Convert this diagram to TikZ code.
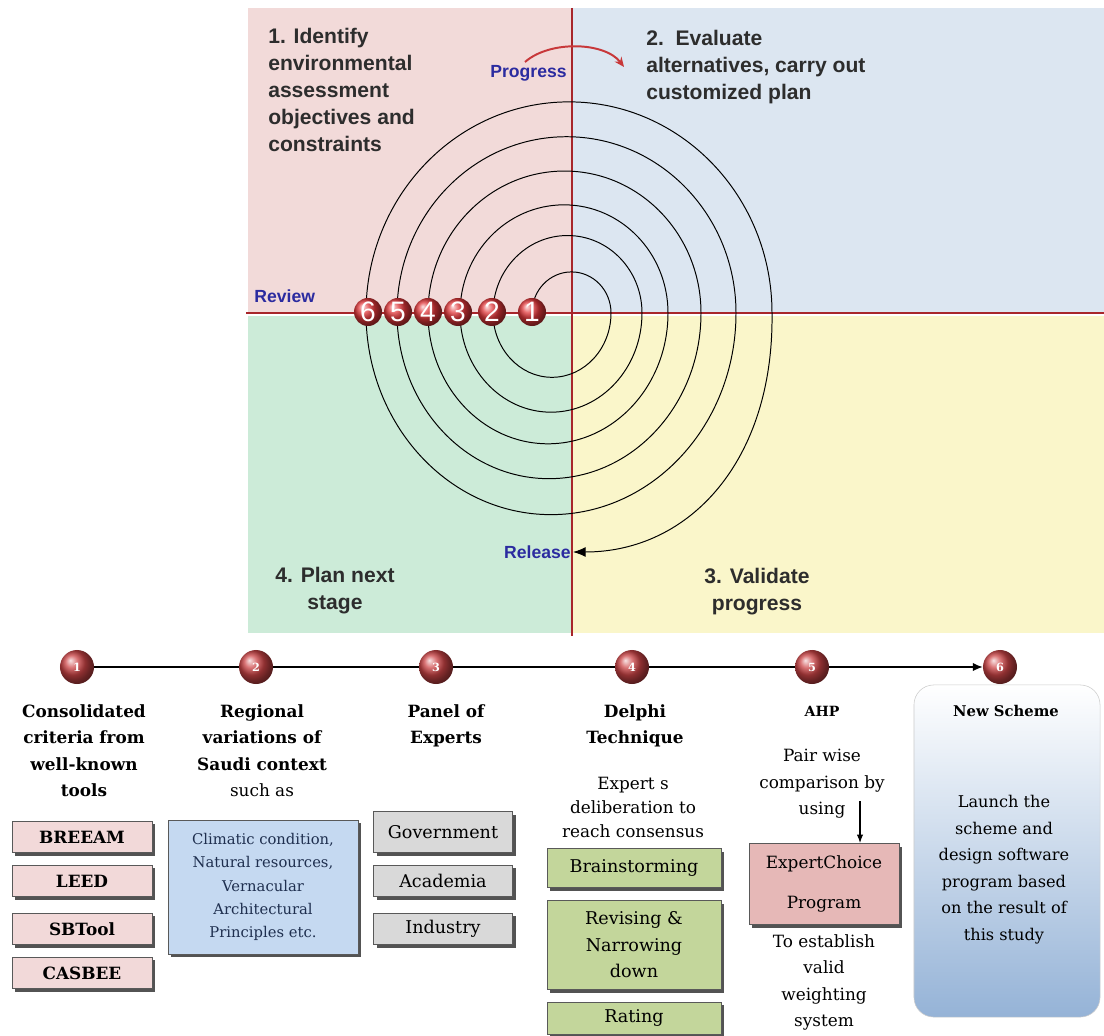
\documentclass[tikz,border=0pt]{standalone}
\usepackage{fontspec}
\setmainfont{DejaVu Serif}
\newfontfamily\quadfont{Liberation Sans}
\usetikzlibrary{arrows.meta, positioning, calc, shadows}
\definecolor{quadpink}{HTML}{F2DAD9}
\definecolor{quadblue}{HTML}{DCE6F1}
\definecolor{quadgreen}{HTML}{CCEBD8}
\definecolor{quadyellow}{HTML}{FAF6CA}
\definecolor{axisred}{HTML}{A8262B}
\definecolor{progred}{HTML}{C8383A}
\definecolor{labelblue}{HTML}{2B2BA0}
\definecolor{quadtextc}{HTML}{2D2D2D}
\definecolor{ballred}{HTML}{E0373A}
\definecolor{stagered}{HTML}{CC4446}
\definecolor{boxpink}{HTML}{F2D9D9}
\definecolor{boxblue}{HTML}{C5D9F1}
\definecolor{boxgray}{HTML}{D9D9D9}
\definecolor{boxgreen}{HTML}{C3D69B}
\definecolor{boxrose}{HTML}{E6B8B7}
\definecolor{schemeblue}{HTML}{95B3D7}
\definecolor{navytext}{HTML}{1F2F4F}

\begin{document}
\begin{tikzpicture}[x=0.025cm, y=0.025cm,
    quadtext/.style={font=\quadfont\bfseries\fontsize{15}{19.2}\selectfont, text=quadtextc, inner sep=0pt},
    cyclelabel/.style={font=\quadfont\bfseries\fontsize{12.5}{14}\selectfont, text=labelblue, inner sep=1.5pt},
    spiral/.style={line width=0.7pt, black},
    axisline/.style={axisred, line width=1.6pt},
    topball/.style={circle, shading=ball, ball color=ballred, minimum size=0.7cm, inner sep=0pt, text=white, font=\quadfont\fontsize{20}{20}\selectfont},
    stageball/.style={circle, shading=ball, ball color=stagered, minimum size=0.85cm, inner sep=0pt, text=white, font=\bfseries\fontsize{8}{8}\selectfont},
    stagehead/.style={font=\bfseries\fontsize{12}{18.85}\selectfont, align=center, inner sep=0pt, anchor=north},
    stagetext/.style={font=\fontsize{12}{18.85}\selectfont, align=center, inner sep=0pt, anchor=north},
    itembox/.style={draw=black!65, line width=0.6pt, minimum width=3.5cm, minimum height=0.78cm, inner sep=1pt, align=center, font=\fontsize{12.5}{18.85}\selectfont, drop shadow={shadow xshift=2.2pt, shadow yshift=-2.2pt, fill=black!75, opacity=0.9}},
    tline/.style={line width=1pt, black}
  ]
  \useasboundingbox (0,0) rectangle (1104,-1036);

  % Quadrants
  \fill[quadpink] (248,-8) rectangle (571,-313);
  \fill[quadblue] (573,-8) rectangle (1104,-313);
  \fill[quadgreen] (248,-316) rectangle (571,-633);
  \fill[quadyellow] (573,-316) rectangle (1104,-633);
  \draw[axisline] (246,-313) -- (1104,-313);
  \draw[axisline] (572,-8) -- (572,-636);

  \node[quadtext, anchor=north west, align=left] (q1) at (268,-28) {1. Identify\\environmental\\assessment\\objectives and\\constraints};
  \node[quadtext, anchor=north west, align=left] (q2) at (646,-30) {2.\ \ Evaluate\\alternatives, carry out\\customized plan};
  \node[quadtext, anchor=north, align=center] (q3) at (757,-568) {3. Validate\\progress};
  \node[quadtext, anchor=north, align=center] (q4) at (335,-567) {4. Plan next\\stage};

  \node[cyclelabel, anchor=east] (progress) at (569,-73) {Progress};
  \node[cyclelabel, anchor=west] (review) at (252,-296) {Review};
  \node[cyclelabel, anchor=east] (release) at (573,-552) {Release};
  \draw[progred, line width=1.4pt, -{Stealth[length=7pt, width=6pt]}] (525,-62) .. controls (550,-40) and (605,-42) .. (624,-67);

  % Spiral
  \foreach \l/\r in {532/611, 493/642, 460/668, 428/701, 397/736, 366/772}
    \draw[spiral] (\l,-313) arc[start angle=180, end angle=0, x radius={(\r-\l)/2}, y radius={(\r-\l)/2*1.04}];
  \foreach \r/\l in {611/493, 642/460, 668/428, 701/397, 736/366}
    \draw[spiral] (\r,-313) arc[start angle=0, end angle=-180, x radius={(\r-\l)/2}, y radius={(\r-\l)/2*1.09}];
  \draw[spiral, -{Latex[length=9pt, width=7pt]}] (772,-313) .. controls (774,-460) and (690,-552) .. (release.east);

  \foreach \n/\x in {1/532, 2/492, 3/458, 4/428, 5/398, 6/368}
    \node[topball] (c\n) at (\x,-312) {\n};

  % Timeline
  \foreach \n/\x in {1/77, 2/256, 3/436, 4/632, 5/812, 6/1000}
    \node[stageball] (t\n) at (\x,-667) {\n};
  \draw[tline] (t1) -- (t2);
  \draw[tline] (t2) -- (t3);
  \draw[tline] (t3) -- (t4);
  \draw[tline] (t4) -- (t5);
  \draw[tline, -{Latex[length=7pt, width=6pt]}] (t5) -- (t6);

  % Consolidated criteria
  \node[stagehead] (h1) at (84,-704) {Consolidated\\criteria from\\well-known\\tools};
  \node[itembox, fill=boxpink, font=\bfseries\fontsize{12}{18}\selectfont] (breeam) at (82,-837) {BREEAM};
  \node[itembox, fill=boxpink, font=\bfseries\fontsize{12}{18}\selectfont] (leed) at (82,-881) {LEED};
  \node[itembox, fill=boxpink, font=\bfseries\fontsize{12}{18}\selectfont] (sbtool) at (82,-929) {SBTool};
  \node[itembox, fill=boxpink, font=\bfseries\fontsize{12}{18}\selectfont] (casbee) at (82,-973) {CASBEE};

  % Regional variations
  \node[stagehead] (h2) at (262,-704) {Regional\\variations of\\Saudi context\\\normalfont such as};
  \node[itembox, fill=boxblue, minimum width=4.75cm, minimum height=3.35cm, text=navytext, font=\fontsize{10.5}{16.6}\selectfont] (regional) at (263,-887) {Climatic condition,\\Natural resources,\\Vernacular\\Architectural\\Principles etc.};

  % Panel of experts
  \node[stagehead] (h3) at (446,-704) {Panel of\\Experts};
  \node[itembox, fill=boxgray, minimum width=3.475cm, minimum height=1.025cm] (gov) at (443,-832) {Government};
  \node[itembox, fill=boxgray, minimum width=3.475cm] (acad) at (443,-881) {Academia};
  \node[itembox, fill=boxgray, minimum width=3.475cm] (ind) at (443,-929) {Industry};

  % Delphi
  \node[stagehead] (h4) at (635,-704) {Delphi\\Technique};
  \node[stagetext, font=\fontsize{12}{17.2}\selectfont] (d4) at (633,-777) {Expert s\\deliberation to\\reach consensus};
  \node[itembox, fill=boxgreen, minimum width=4.35cm, minimum height=0.975cm] (brain) at (634,-868) {Brainstorming};
  \node[itembox, fill=boxgreen, minimum width=4.35cm, minimum height=2.225cm] (revise) at (634,-945) {Revising \&\\Narrowing\\down};
  \node[itembox, fill=boxgreen, minimum width=4.35cm, minimum height=0.8cm] (rating) at (634,-1018) {Rating};

  % AHP
  \node[stagehead, font=\bfseries\fontsize{10}{18.85}\selectfont] (h5) at (822,-706) {AHP};
  \node[stagetext] (d5) at (822,-749) {Pair wise\\comparison by\\using};
  \node[itembox, fill=boxrose, minimum width=3.75cm, minimum height=2.025cm, font=\fontsize{12}{18.85}\selectfont] (ec) at (824,-884) {ExpertChoice\\[9pt]Program};
  \coordinate (ustart) at (860,-801);
  \draw[line width=0.8pt, -{Latex[length=6pt, width=4.5pt]}] (ustart) -- (ustart |- ec.north);
  \node[stagetext] (w5) at (824,-934) {To establish\\valid\\weighting\\system};

  % New scheme
  \node[rounded corners=14pt, draw=black!20, top color=white, bottom color=schemeblue, minimum width=4.65cm, minimum height=8.3cm] (nsbox) at (1007,-851) {};
  \node[stagehead, font=\bfseries\fontsize{10.5}{18.85}\selectfont] (h6) at (1006,-705) {New Scheme};
  \node[stagetext, font=\fontsize{11.5}{18.85}\selectfont] (d6) at (1004,-795) {Launch the\\scheme and\\design software\\program based\\on the result of\\this study};
\end{tikzpicture}
\end{document}
